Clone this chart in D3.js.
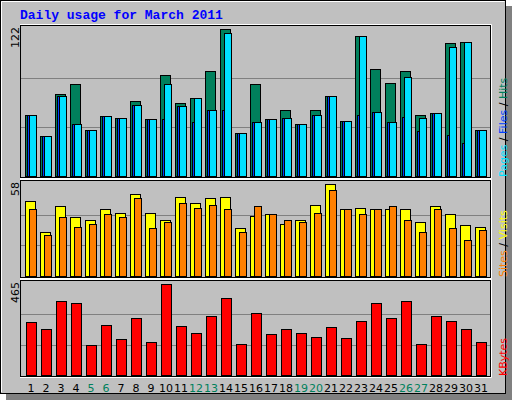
<!DOCTYPE html>
<html><head><meta charset="utf-8">
<script src="https://cdn.jsdelivr.net/npm/d3@7"></script>
<style>body{margin:0;background:#fff}</style>
</head><body>
<script>
var days = d3.range(1, 32);
var weekend = [5, 6, 12, 13, 19, 20, 26, 27];
var hits  = [51,33,68,76,38,50,48,62,47,84,61,65,87,122,36,76,47,55,43,55,66,46,116,89,77,87,51,52,110,111,38];
var files = [51,33,66,43,38,50,48,59,47,47,58,45,55,55,36,45,47,48,43,51,66,46,51,53,45,49,37,52,34,27,38];
var pages = [51,33,66,43,38,50,48,59,47,76,58,65,55,119,36,45,47,48,43,51,66,46,116,53,45,82,48,52,107,111,38];
var visits = [47,28,44,37,35,42,40,52,40,35,50,46,49,50,30,38,39,33,35,45,58,42,43,42,42,42,34,44,39,32,31];
var sites  = [42,26,37,31,33,39,37,49,30,34,46,43,45,42,28,44,39,35,34,40,54,42,39,42,44,35,28,42,30,23,29];
var kbytes = [271,235,378,368,153,255,184,291,169,465,250,215,301,393,158,317,209,235,215,194,245,189,276,368,291,378,158,301,276,235,169];

var svg = d3.select("body").append("svg").attr("width", 512).attr("height", 400)
  .style("font-family", "DejaVu Sans");

// background + shadow
svg.append("rect").attr("x", 6).attr("y", 6).attr("width", 506).attr("height", 394).attr("fill", "#808080");
svg.append("rect").attr("x", 0.5).attr("y", 0.5).attr("width", 505).attr("height", 393)
  .attr("fill", "#c0c0c0").attr("stroke", "#000");
svg.append("path").attr("d", "M1.5,392V1.5H504.5").attr("stroke", "#fff").attr("fill", "none");

svg.append("text").attr("x", 20).attr("y", 19).text("Daily usage for March 2011")
  .attr("fill", "#0000ff").style("font-family", "Liberation Mono").style("font-weight", "bold").style("font-size", "13px");

var x = d3.scaleBand().domain(days).range([20, 485]).paddingInner(0);

function panel(top, bottom, max, series, label) {
  var y = d3.scaleLinear().domain([0, max]).range([bottom, top + 4]);
  var g = svg.append("g");
  g.append("rect").attr("x", 20.5).attr("y", top + 0.5).attr("width", 470).attr("height", bottom - top + 1)
    .attr("fill", "#c0c0c0").attr("stroke", "#000");
  g.append("path").attr("d", "M20," + (top - 0.5) + "H491.5V" + (bottom + 2.5) + "H20")
    .attr("stroke", "#fff").attr("fill", "none");
  [1, 2].forEach(function (k) {
    var yy = Math.round(bottom - (bottom - top - 4) * k / 3) + 0.5;
    g.append("line").attr("x1", 21).attr("x2", 490).attr("y1", yy).attr("y2", yy).attr("stroke", "#808080");
  });
  series.forEach(function (s) {
    g.selectAll(null).data(s.values).enter().append("rect")
      .attr("x", function (d, i) { return x(days[i]) + 5.5 + s.dx; })
      .attr("y", function (d) { return Math.round(y(d)) + 0.5; })
      .attr("width", s.w)
      .attr("height", function (d) { return bottom - Math.round(y(d)); })
      .attr("fill", s.color).attr("stroke", "#000");
  });
  svg.append("text").attr("transform", "translate(19," + (top + 2) + ") rotate(-90)")
    .attr("text-anchor", "end").style("font-size", "11px").text(max);
  var t = svg.append("text").attr("transform", "translate(507," + (bottom + 1) + ") rotate(-90)")
    .style("font-size", "11px");
  label.forEach(function (l, i) {
    if (i) t.append("tspan").attr("fill", "#000").text(" / ");
    t.append("tspan").attr("fill", l[1]).text(l[0]);
  });
}

panel(25, 176, 122, [
  {values: hits, color: "#00805c", dx: 0, w: 10},
  {values: files, color: "#0040ff", dx: 2, w: 9},
  {values: pages, color: "#00e0ff", dx: 4, w: 7}
], [["Pages", "#00e0ff"], ["Files", "#0040ff"], ["Hits", "#00805c"]]);

panel(180, 276, 58, [
  {values: visits, color: "#ffff00", dx: 0, w: 10},
  {values: sites, color: "#ff8000", dx: 4, w: 7}
], [["Sites", "#ff8000"], ["Visits", "#ffff00"]]);

panel(280, 375, 465, [
  {values: kbytes, color: "#ff0000", dx: 1, w: 10}
], [["KBytes", "#ff0000"]]);

svg.selectAll(".day").data(days).enter().append("text")
  .attr("x", function (d) { return x(d) + 11; }).attr("y", 392)
  .attr("text-anchor", "middle").style("font-size", "11px")
  .attr("fill", function (d) { return weekend.indexOf(d) >= 0 ? "#00805c" : "#000"; })
  .text(function (d) { return d; });
</script>
</body></html>
